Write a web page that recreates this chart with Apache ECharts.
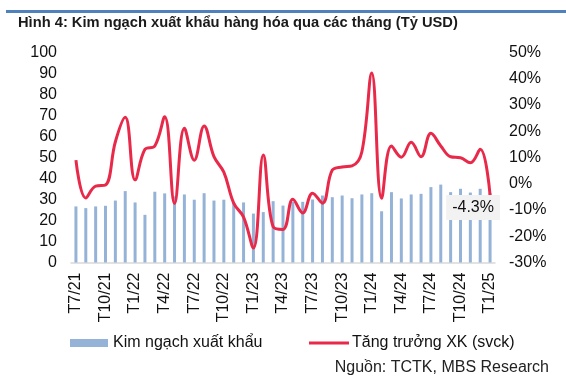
<!DOCTYPE html>
<html>
<head>
<meta charset="utf-8">
<script src="https://cdn.jsdelivr.net/npm/echarts@6/dist/echarts.min.js"></script>
<style>
html,body{margin:0;padding:0;background:#fff;}
#chart{width:566px;height:381px;}
</style>
</head>
<body>
<div id="chart"></div>
<script>
const months = ['T7/21','T8/21','T9/21','T10/21','T11/21','T12/21',
  'T1/22','T2/22','T3/22','T4/22','T5/22','T6/22','T7/22','T8/22','T9/22','T10/22','T11/22','T12/22',
  'T1/23','T2/23','T3/23','T4/23','T5/23','T6/23','T7/23','T8/23','T9/23','T10/23','T11/23','T12/23',
  'T1/24','T2/24','T3/24','T4/24','T5/24','T6/24','T7/24','T8/24','T9/24','T10/24','T11/24','T12/24',
  'T1/25'];
const exportValue = [26.7,25.9,26.7,27.0,29.5,34.0,
  28.6,22.7,33.7,32.9,31.5,32.4,29.9,33.0,29.5,29.9,28.4,28.6,
  23.3,24.0,29.2,27.1,28.9,28.9,30.0,31.9,31.1,31.9,30.6,32.4,
  33.0,24.4,33.5,30.5,32.4,32.7,35.9,37.1,33.5,35.1,33.3,35.1,
  33.0];
const growthYoY = [9.0,-5.4,-0.9,-0.5,16.0,25.3,
  1.5,13.1,14.4,25.5,-7.5,21.1,9.0,22.0,10.3,4.4,-7.4,-12.7,
  -24.5,11.0,-16.4,-17.4,-5.9,-11.1,-3.6,-7.4,5.2,6.4,6.8,12.2,
  42.2,-5.5,14.4,10.1,15.8,10.3,19.2,14.4,10.3,9.9,8.0,13.1,
  -4.3];
const leftTicks = {min:0, max:100, interval:10};
const rightTicks = {min:-30, max:50, interval:10};
const seriesNames = ['Kim ngạch xuất khẩu','Tăng trưởng XK (svck)'];
const titleText = 'Hình 4: Kim ngạch xuất khẩu hàng hóa qua các tháng (Tỷ USD)';
const sourceText = 'Nguồn: TCTK, MBS Research';

const chart = echarts.init(document.getElementById('chart'), null, {renderer:'canvas'});
const FONT = 'Liberation Sans, Arial, sans-serif';
const lastIdx = growthYoY.length - 1;
const lineData = growthYoY.map((v,i) => i === lastIdx ? {
  value: v,
  label: {
    show: true, position: 'bottom', distance: 0, offset: [-17, 0],
    formatter: (p) => p.value.toFixed(1) + '%',
    backgroundColor: '#f2f2f2', padding: [5, 6, 4, 6],
    color: '#111', fontSize: 16, fontFamily: FONT
  }
} : v);

chart.setOption({
  animation: false,
  textStyle: {fontFamily: FONT},
  graphic: [
    {type:'rect', left:6, top:10, shape:{width:560, height:3}, style:{fill:'#4F81BD'}},
    {type:'text', left:18, top:15, style:{text:titleText, font:'bold 14.7px ' + FONT, fill:'#1a1a1a'}},
    {type:'text', right:17, top:360, style:{text:sourceText, font:'16px ' + FONT, fill:'#222'}}
  ],
  grid: {left:71, right:71, top:52.5, bottom:118.5},
  legend: [
    {data:[seriesNames[0]], left:70, top:335, padding:0, itemWidth:38, itemHeight:8, itemGap:5, icon:'rect',
     textStyle:{fontSize:16, color:'#111', fontFamily:FONT, padding:[0,0,0,0]}},
    {data:[seriesNames[1]], left:309, top:335, padding:0, itemWidth:40, itemHeight:3, icon:'rect',
     textStyle:{fontSize:16, color:'#111', fontFamily:FONT, padding:[0,0,0,-2]}}
  ],
  xAxis: {
    type:'category', data: months, boundaryGap:true,
    axisLine:{show:true, lineStyle:{color:'#d9d9d9', width:1.5}},
    axisTick:{show:false},
    axisLabel:{interval:2, rotate:90, margin:10, fontSize:16, color:'#111', fontFamily:FONT}
  },
  yAxis: [
    {type:'value', min:leftTicks.min, max:leftTicks.max, interval:leftTicks.interval,
     axisLine:{show:false}, axisTick:{show:false}, splitLine:{show:false},
     axisLabel:{margin:14, fontSize:16, color:'#111', fontFamily:FONT}},
    {type:'value', min:rightTicks.min, max:rightTicks.max, interval:rightTicks.interval,
     axisLine:{show:false}, axisTick:{show:false}, splitLine:{show:false},
     axisLabel:{margin:14, fontSize:16, color:'#111', fontFamily:FONT, formatter:'{value}%'}}
  ],
  series: [
    {name:seriesNames[0], type:'bar', data:exportValue, yAxisIndex:0, barWidth:3,
     itemStyle:{color:'#95B3D7'}},
    {name:seriesNames[1], type:'line', data:lineData, yAxisIndex:1, smooth:0.4,
     symbol:'circle', symbolSize:0, showSymbol:true,
     lineStyle:{color:'#E8294A', width:3}, itemStyle:{color:'#E8294A'}, z:5}
  ]
});
</script>
</body>
</html>
